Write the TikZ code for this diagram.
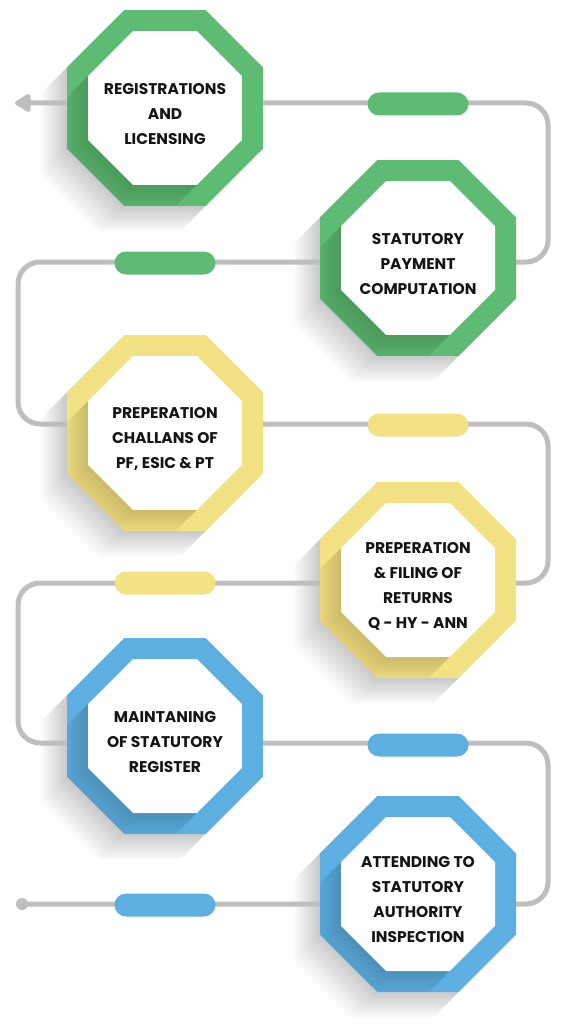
\documentclass[tikz,border=0pt]{standalone}
\usepackage{fontspec}
\setmainfont{Poppins}
\usetikzlibrary{arrows.meta}
\definecolor{grn}{HTML}{5DBB74}
\definecolor{ylw}{HTML}{F3E283}
\definecolor{blu}{HTML}{5DAEE1}
\definecolor{lin}{HTML}{BEBEBE}
\definecolor{txtc}{HTML}{151515}
\newcommand\octo[1]{(22.5:#1) -- (67.5:#1) -- (112.5:#1) -- (157.5:#1) -- (202.5:#1) -- (247.5:#1) -- (292.5:#1) -- (337.5:#1) -- cycle}
\newcommand\octshadow[2]{%
  \begin{scope}[shift={(#1,#2)}]
    \foreach \t in {2,4,...,26} {\fill[black,opacity=0.014,shift={(-\t,\t)}] \octo{106.07};}
  \end{scope}}
\newcommand\octbox[4]{% name, x, y, colour, text
  \begin{scope}[shift={(#2,#3)}]
    \fill[#4] \octo{106.07};
    \begin{scope}
      \clip \octo{106.07};
      \foreach \t in {2,4,...,26} {\fill[black,opacity=0.013,shift={(-\t,\t)}] \octo{83.34};}
    \end{scope}
    \fill[white] \octo{83.34};
    \node[label] (#1) at (0,6) {\octtext};
  \end{scope}}
\begin{document}
\begin{tikzpicture}[x=1pt,y=-1pt,
  line/.style={draw=lin,line width=5pt},
  pill/.style={rounded corners=11.5pt,minimum width=101pt,minimum height=23pt,inner sep=0pt},
  label/.style={align=center,text=txtc,font=\bfseries\fontsize{15.5}{25}\selectfont,inner sep=0pt}]
\useasboundingbox[fill=white] (0,0) rectangle (569,1024);
% shadows
\octshadow{165}{108}
\octshadow{418}{258}
\octshadow{165}{433}
\octshadow{418}{580}
\octshadow{165}{736}
\octshadow{418}{894}
% path coordinates
\node[circle,fill=lin,minimum size=12pt,inner sep=0pt] (s) at (22,904) {};
\coordinate (r6) at (548,904);
\coordinate (r5) at (548,743);
\coordinate (l5) at (18,743);
\coordinate (l4) at (18,583);
\coordinate (r4) at (548,583);
\coordinate (r3) at (548,424);
\coordinate (l3) at (18,424);
\coordinate (l2) at (18,262);
\coordinate (r2) at (548,262);
\coordinate (r1) at (548,103);
\coordinate (e) at (15,103);
\draw[line,rounded corners=22pt,-{Triangle[length=18pt,width=20pt,round]}]
  (s.center) -- (r6) -- (r5) -- (l5) -- (l4) -- (r4) -- (r3) -- (l3) -- (l2) -- (r2) -- (r1) -- (e);
% pills
\node[pill,fill=grn] (p1) at (418,104) {};
\node[pill,fill=grn] (p2) at (165,263) {};
\node[pill,fill=ylw] (p3) at (418,425) {};
\node[pill,fill=ylw] (p4) at (165,583) {};
\node[pill,fill=blu] (p5) at (418,745) {};
\node[pill,fill=blu] (p6) at (165,905) {};
% octagons
\def\octtext{REGISTRATIONS\\AND\\LICENSING}
\octbox{t1}{165}{108}{grn}
\def\octtext{STATUTORY\\PAYMENT\\COMPUTATION}
\octbox{t2}{418}{258}{grn}
\def\octtext{PREPERATION\\CHALLANS OF\\PF, ESIC \& PT}
\octbox{t3}{165}{433}{ylw}
\def\octtext{PREPERATION\\\& FILING OF\\RETURNS\\Q - HY - ANN}
\octbox{t4}{418}{580}{ylw}
\def\octtext{MAINTANING\\OF STATUTORY\\REGISTER}
\octbox{t5}{165}{736}{blu}
\def\octtext{ATTENDING TO\\STATUTORY\\AUTHORITY\\INSPECTION}
\octbox{t6}{418}{894}{blu}
\end{tikzpicture}
\end{document}
